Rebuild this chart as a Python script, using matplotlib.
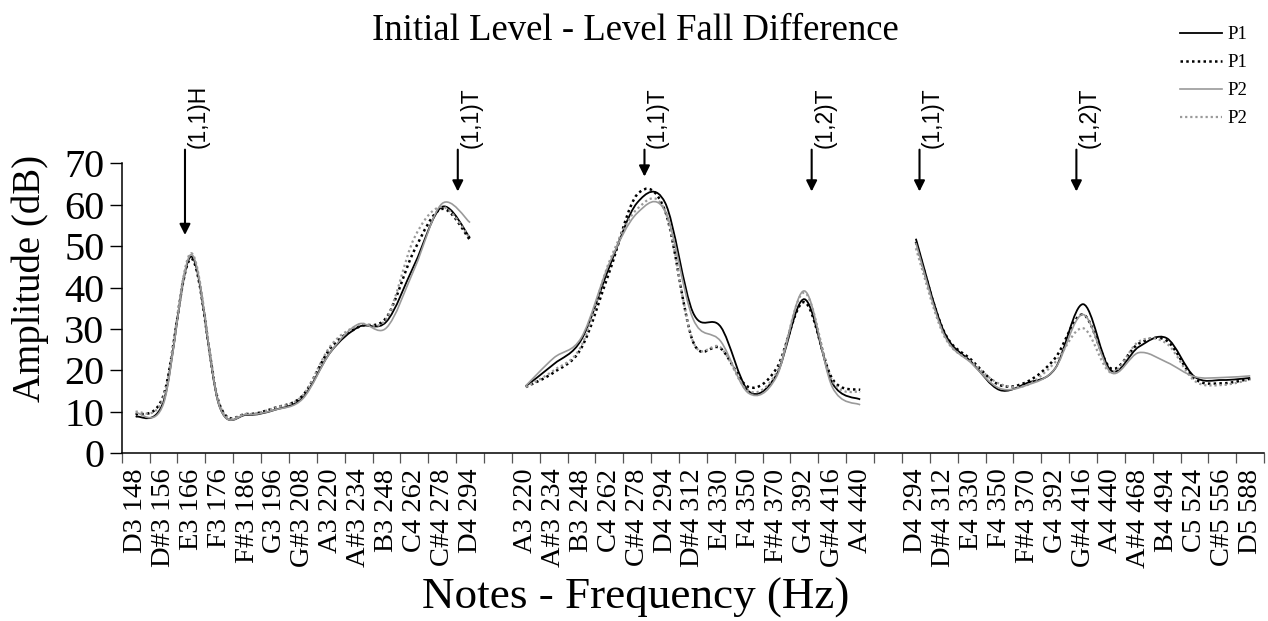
"""
Initial level vs level fall: amplitude per note, three note ranges on one axis.
Excel-style smoothed lines, drawn as bezier paths through the data points.
"""
import numpy as np
import matplotlib
matplotlib.use("Agg")
import matplotlib.pyplot as plt
from matplotlib.path import Path
from matplotlib.patches import PathPatch
from matplotlib.lines import Line2D

plt.rcParams["font.family"] = ["Liberation Serif", "DejaVu Serif"]

# 41 categories: three note ranges separated by one empty slot
notes = [
    "D3 148", "D#3 156", "E3 166", "F3 176", "F#3 186", "G3 196", "G#3 208",
    "A3 220", "A#3 234", "B3 248", "C4 262", "C#4 278", "D4 294",
    "",
    "A3 220", "A#3 234", "B3 248", "C4 262", "C#4 278", "D4 294", "D#4 312",
    "E4 330", "F4 350", "F#4 370", "G4 392", "G#4 416", "A4 440",
    "",
    "D4 294", "D#4 312", "E4 330", "F4 350", "F#4 370", "G4 392", "G#4 416",
    "A4 440", "A#4 468", "B4 494", "C5 524", "C#5 556", "D5 588",
]

N = None
p1_solid = [8.8, 12.5, 47.5, 11.5, 9.3, 10.5, 13.5, 24.5, 30.5, 31.8, 45.5, 59.5, 52.0,
            N,
            16.2, 21.5, 27.5, 45.0, 60.5, 60.5, 34.0, 30.5, 15.0, 19.0, 37.2, 17.0, 13.0,
            N,
            51.8, 29.5, 22.0, 15.3, 17.0, 20.5, 36.0, 20.0, 25.7, 27.8, 18.5, 17.7, 18.2]
p1_dotted = [9.3, 14.0, 47.0, 12.0, 9.5, 11.0, 14.0, 25.5, 30.5, 32.8, 49.0, 59.0, 51.5,
             N,
             16.0, 19.5, 25.5, 43.8, 62.5, 58.5, 27.0, 25.3, 16.0, 20.5, 36.5, 18.0, 15.3,
             N,
             51.0, 29.5, 22.5, 16.5, 17.3, 23.0, 33.5, 20.5, 26.5, 27.2, 18.0, 16.9, 18.0]
p2_solid = [9.8, 12.0, 48.0, 11.5, 9.4, 10.5, 13.2, 24.5, 31.2, 30.3, 44.5, 60.3, 55.7,
            N,
            16.3, 23.0, 28.0, 45.9, 58.0, 58.5, 32.5, 27.0, 14.5, 18.5, 39.2, 16.0, 11.7,
            N,
            50.8, 28.8, 21.7, 15.7, 16.5, 20.5, 33.5, 19.5, 24.3, 22.0, 18.5, 18.3, 18.7]
p2_dotted = [10.0, 13.5, 48.3, 12.0, 9.5, 11.0, 14.0, 26.0, 31.0, 32.5, 52.0, 59.5, 52.0,
             N,
             16.0, 20.0, 26.0, 46.3, 59.0, 58.5, 27.0, 25.5, 15.0, 19.5, 38.8, 17.5, 14.8,
             N,
             49.5, 28.5, 22.0, 16.8, 16.5, 22.0, 30.2, 19.5, 27.0, 26.5, 17.5, 16.5, 17.8]

# arrow annotations: (label, category position, arrow tip value)
marks = [("(1,1)H", 1.77, 52.7), ("(1,1)T", 11.56, 63.2), ("(1,1)T", 18.26, 66.8),
         ("(1,2)T", 24.26, 63.2), ("(1,1)T", 28.13, 63.2), ("(1,2)T", 33.76, 63.2)]


def smooth_path(xs, ys):
    # catmull-rom style bezier through the points, like excel "smoothed line"
    pts = list(zip(xs, ys))
    n = len(pts)
    verts, codes = [pts[0]], [Path.MOVETO]
    for i in range(n - 1):
        p0, p1 = pts[max(i - 1, 0)], pts[i]
        p2, p3 = pts[i + 1], pts[min(i + 2, n - 1)]
        c1 = (p1[0] + (p2[0] - p0[0]) / 6, p1[1] + (p2[1] - p0[1]) / 6)
        c2 = (p2[0] - (p3[0] - p1[0]) / 6, p2[1] - (p3[1] - p1[1]) / 6)
        verts += [c1, c2, p2]
        codes += [Path.CURVE4] * 3
    return Path(verts, codes)


def draw_series(ax, values, **style):
    seg_x, seg_y = [], []
    for i, v in enumerate(values + [None]):
        if v is None:
            if seg_x:
                ax.add_patch(PathPatch(smooth_path(seg_x, seg_y), fill=False, **style))
            seg_x, seg_y = [], []
        else:
            seg_x.append(i)
            seg_y.append(v)


fig = plt.figure(figsize=(12.68, 6.21), dpi=100)
ax = fig.add_axes([0.096, 0.270, 0.901, 0.467])

gray = "#9a9a9a"
styles = [
    (p1_solid, dict(edgecolor="black", lw=1.3, linestyle="-")),
    (p1_dotted, dict(edgecolor="black", lw=1.8, linestyle=(0, (1, 1.3)))),
    (p2_solid, dict(edgecolor=gray, lw=1.2, linestyle="-")),
    (p2_dotted, dict(edgecolor=gray, lw=1.6, linestyle=(0, (1, 1.3)))),
]
for vals, st in styles:
    draw_series(ax, vals, **st)

ax.set_xlim(-0.5, len(notes) - 0.5)
ax.set_ylim(0, 70)
ax.set_yticks(range(0, 71, 10))
ax.tick_params(axis="y", labelsize=29, length=8.5, width=1.0, pad=4, direction="out")

ax.set_xticks(range(len(notes)))
ax.set_xticklabels(notes, rotation=90, fontsize=20.5)
ax.set_xticks(np.arange(-0.5, len(notes)), minor=True)
ax.tick_params(axis="x", which="major", length=0, pad=11)
ax.tick_params(axis="x", which="minor", length=7.5, width=0.9, color="#555555")

for side in ("top", "right"):
    ax.spines[side].set_visible(False)
for side in ("left", "bottom"):
    ax.spines[side].set_linewidth(1.1)

for label, xpos, tip in marks:
    ax.annotate("", xy=(xpos, tip), xytext=(xpos, 73.3), annotation_clip=False,
                arrowprops=dict(arrowstyle="-|>", color="black", lw=1.5,
                                mutation_scale=16, shrinkA=0, shrinkB=0))
    ax.text(xpos + 0.47, 73.7, label, rotation=90, ha="center", va="bottom",
            fontsize=16.5, family=["Liberation Sans", "DejaVu Sans"], clip_on=False)

fig.text(0.5008, 1 - 31 / 621, "Initial Level - Level Fall Difference",
         ha="center", va="center", fontsize=26.5)
fig.text(0.501, 1 - 598 / 621, "Notes - Frequency (Hz)",
         ha="center", va="center", fontsize=32.5)
fig.text(30 / 1268, 1 - 278 / 621, "Amplitude (dB)", rotation=90,
         ha="center", va="center", fontsize=28)

handles = [
    Line2D([], [], color="black", lw=1.3, ls="-"),
    Line2D([], [], color="black", lw=1.8, ls=(0, (1, 1.3))),
    Line2D([], [], color=gray, lw=1.2, ls="-"),
    Line2D([], [], color=gray, lw=1.6, ls=(0, (1, 1.3))),
]
fig.legend(handles, ["P1", "P1", "P2", "P2"], loc="upper left",
           bbox_to_anchor=(1180 / 1268, 1 - 26 / 621), frameon=False,
           fontsize=13.5, handlelength=2.25, handletextpad=0.3,
           labelspacing=0.585, borderpad=0, borderaxespad=0)

fig.savefig("out.png", dpi=100)
